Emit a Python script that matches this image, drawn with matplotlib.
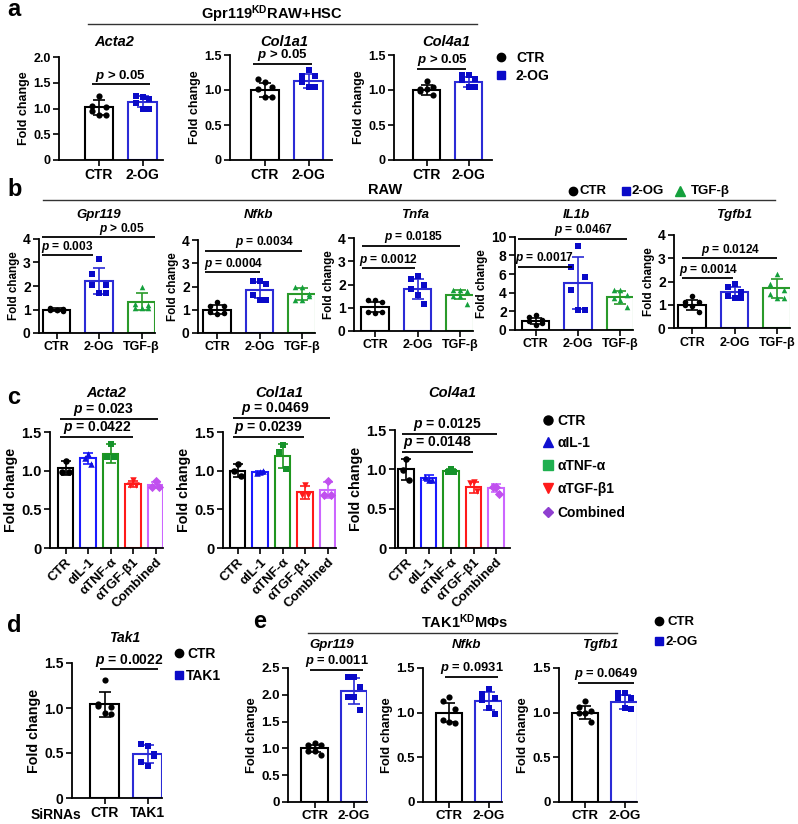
import matplotlib
matplotlib.use('Agg')
import matplotlib.pyplot as plt
from matplotlib.lines import Line2D

plt.rcParams.update({
    'font.family': ['Liberation Sans', 'DejaVu Sans'],
    'font.weight': 'bold',
    'mathtext.fontset': 'custom',
    'mathtext.rm': 'Liberation Sans:bold',
    'mathtext.it': 'Liberation Sans:italic:bold',
    'mathtext.bf': 'Liberation Sans:bold',
    'axes.linewidth': 1.3,
})

# ---------------- DATA ----------------
# Panel a
a_genes = ['Acta2', 'Col1a1', 'Col4a1']
a_groups = ['CTR', '2-OG']
a_means = [[1.02, 1.13], [1.00, 1.13], [1.00, 1.12]]
a_sd = [[0.14, 0.11], [0.10, 0.10], [0.07, 0.07]]
a_points = [
    [[1.24, 1.05, 1.03, 0.95, 0.87, 0.87], [1.22, 1.24, 1.18, 1.10, 1.00, 1.00]],
    [[1.11, 1.16, 1.04, 1.01, 0.90, 0.90], [1.28, 1.20, 1.20, 1.11, 1.04, 1.04]],
    [[1.13, 1.02, 1.05, 0.99, 1.01, 0.93], [1.22, 1.22, 1.16, 1.14, 1.04, 1.04]],
]
a_yticks = [[0, 0.5, 1.0, 1.5, 2.0], [0, 0.5, 1.0, 1.5], [0, 0.5, 1.0, 1.5]]
a_pvals = ['p > 0.05', 'p > 0.05', 'p > 0.05']

# Panel b
b_genes = ['Gpr119', 'Nfkb', 'Tnfa', 'IL1b', 'Tgfb1']
b_groups = ['CTR', '2-OG', 'TGF-β']
b_means = [[1.00, 2.20, 1.33], [1.00, 1.84, 1.66], [1.03, 1.80, 1.56],
           [0.95, 5.05, 3.50], [1.00, 1.54, 1.71]]
b_sd = [[0.05, 0.56, 0.36], [0.20, 0.35, 0.26], [0.22, 0.44, 0.20],
        [0.33, 2.75, 0.70], [0.20, 0.22, 0.39]]
b_points = [
    [[1.00, 0.98, 1.02, 1.05, 0.97, 0.93], [3.17, 2.50, 2.03, 2.03, 1.71, 1.71], [1.97, 1.24, 1.21, 1.07, 1.07, 1.07]],
    [[1.33, 1.17, 1.17, 0.90, 0.81, 0.86], [2.24, 2.24, 2.10, 1.64, 1.43, 1.43], [2.00, 1.96, 1.69, 1.43, 1.43, 1.60]],
    [[1.31, 1.31, 1.25, 0.79, 0.75, 0.79], [2.36, 2.24, 1.96, 1.80, 1.53, 1.17], [1.77, 1.78, 1.74, 1.50, 1.50, 1.17]],
    [[1.60, 1.43, 1.07, 0.96, 0.54, 0.71], [9.00, 6.80, 5.70, 4.30, 2.10, 2.10], [4.30, 4.25, 3.70, 3.40, 3.20, 2.50]],
    [[1.39, 1.11, 1.11, 1.00, 0.96, 0.69], [1.89, 1.79, 1.55, 1.37, 1.31, 1.31], [2.31, 1.89, 1.64, 1.46, 1.29, 1.29]],
]
b_yticks = [[0, 1, 2, 3, 4], [0, 1, 2, 3, 4], [0, 1, 2, 3, 4], [0, 2, 4, 6, 8, 10], [0, 1, 2, 3, 4]]
b_pvals = [('p = 0.003', 'p > 0.05'), ('p = 0.0004', 'p = 0.0034'), ('p = 0.0012', 'p = 0.0185'),
           ('p = 0.0017', 'p = 0.0467'), ('p = 0.0014', 'p = 0.0124')]

# Panel c
c_genes = ['Acta2', 'Col1a1', 'Col4a1']
c_groups = ['CTR', 'αIL-1', 'αTNF-α', 'αTGF-β1', 'Combined']
c_means = [[1.03, 1.16, 1.22, 0.83, 0.81], [1.00, 0.98, 1.19, 0.72, 0.75], [1.00, 0.89, 0.98, 0.77, 0.76]]
c_sd = [[0.09, 0.07, 0.12, 0.04, 0.04], [0.08, 0.02, 0.16, 0.08, 0.10], [0.13, 0.04, 0.03, 0.07, 0.05]]
c_points = [
    [[1.13, 0.98, 0.98], [1.22, 1.17, 1.08], [1.34, 1.18, 1.18], [0.88, 0.82, 0.82], [0.86, 0.79, 0.79]],
    [[1.09, 1.00, 0.93], [0.98, 0.97, 0.99], [1.33, 1.24, 1.02], [0.81, 0.69, 0.69], [0.86, 0.69, 0.69]],
    [[1.13, 0.99, 0.87], [0.87, 0.90, 0.87], [1.00, 0.97, 0.97], [0.84, 0.82, 0.72], [0.78, 0.78, 0.69]],
]
c_yticks = [0, 0.5, 1.0, 1.5]
c_pvals = [('p = 0.0422', 'p = 0.023'), ('p = 0.0239', 'p = 0.0469'), ('p = 0.0148', 'p = 0.0125')]

# Panel d
d_gene = 'Tak1'
d_groups = ['CTR', 'TAK1']
d_means = [1.04, 0.49]
d_sd = [0.14, 0.10]
d_points = [[1.31, 1.04, 1.01, 1.02, 0.94, 0.93], [0.58, 0.60, 0.49, 0.40, 0.36, 0.47]]
d_yticks = [0, 0.5, 1.0, 1.5]
d_pval = 'p = 0.0022'

# Panel e
e_genes = ['Gpr119', 'Nfkb', 'Tgfb1']
e_groups = ['CTR', '2-OG']
e_means = [[1.00, 2.07], [1.00, 1.13], [1.00, 1.12]]
e_sd = [[0.07, 0.24], [0.11, 0.10], [0.07, 0.08]]
e_points = [
    [[1.10, 1.07, 1.07, 0.96, 0.95, 0.88], [2.33, 2.33, 2.14, 1.96, 1.96, 1.71]],
    [[1.17, 1.13, 1.04, 0.92, 0.90, 0.88], [1.27, 1.21, 1.16, 1.14, 1.05, 0.99]],
    [[1.13, 1.06, 1.02, 1.00, 1.00, 0.90], [1.22, 1.22, 1.16, 1.16, 1.05, 1.04]],
]
e_yticks = [[0, 0.5, 1.0, 1.5, 2.0, 2.5], [0, 0.5, 1.0, 1.5], [0, 0.5, 1.0, 1.5]]
e_pvals = ['p = 0.0011', 'p = 0.0931', 'p = 0.0649']

# ---------------- STYLE ----------------
BLACK = '#000000'
BLUE_BAR = '#2b2bd6'
BLUE_PT = '#0a0ac8'
GREEN_BAR = '#2a9a2a'
GREEN_PT = '#14a03c'
RED = '#ff1a1a'
VIOLET_BAR = '#cc66ff'
VIOLET_PT = '#c050ee'

# per-panel font sizes: ylabel, ytick, xtick, pval, title
FS = {
    'a': dict(yl=9.0, yt=9.0, xt=10.0, p=9.5, ti=10.5),
    'b': dict(yl=8.4, yt=10.0, xt=9.0, p=8.6, ti=9.5),
    'c': dict(yl=10.3, yt=10.5, xt=9.5, p=10.0, ti=10.5),
    'd': dict(yl=10.3, yt=10.0, xt=10.0, p=10.0, ti=10.0),
    'e': dict(yl=9.3, yt=9.5, xt=9.5, p=9.3, ti=9.5),
}

W, H = 798, 824
fig = plt.figure(figsize=(W / 100, H / 100), dpi=100)

JIT6 = [0.0, -0.24, 0.24, -0.24, 0.0, 0.24]
JIT3 = [0.0, -0.22, 0.22]


def make_ax(left, right, top, bottom, c0, sp, ymax, fs):
    ax = fig.add_axes([left / W, 1 - bottom / H, (right - left) / W, (bottom - top) / H])
    ax.set_xlim(-(c0 - left) / sp, (right - c0) / sp)
    ax.set_ylim(0, ymax)
    for s in ['top', 'right']:
        ax.spines[s].set_visible(False)
    ax.spines['left'].set_linewidth(1.3)
    ax.spines['bottom'].set_linewidth(1.3)
    ax.tick_params(direction='out', length=4, width=1.2, pad=2)
    ax.tick_params(axis='y', labelsize=fs['yt'])
    ax.tick_params(axis='x', labelsize=fs['xt'])
    ax.set_ylabel('Fold change', fontsize=fs['yl'], fontweight='bold', labelpad=2)
    return ax


def draw_bars(ax, means, sds, pts, bar_colors, pt_colors, markers, width, jit, msize=20, cap=4.5):
    xs = list(range(len(means)))
    for i, x in enumerate(xs):
        ax.bar(x, means[i], width=width, color='white', edgecolor=bar_colors[i], linewidth=1.5, zorder=2)
        ax.errorbar(x, means[i], yerr=sds[i], fmt='none', ecolor=bar_colors[i],
                    elinewidth=1.2, capsize=cap, capthick=1.2, zorder=4)
        px = [x + j * width for j in jit[:len(pts[i])]]
        ax.scatter(px, pts[i], s=msize, marker=markers[i], color=pt_colors[i], zorder=5, linewidths=0)
    ax.set_xticks(xs)


def set_yt(ax, ticks, integer=False):
    ax.set_yticks(ticks)
    ax.set_yticklabels(['0' if t == 0 else (str(int(t)) if integer else '%.1f' % t) for t in ticks])


def text_to_math(t):
    return r'$p$' + t[1:]


def bracket(ax, x0, x1, y, text, tx, fs):
    ax.plot([x0, x1], [y, y], color='black', lw=1.3, clip_on=False, zorder=6, solid_capstyle='butt')
    ax.annotate(text_to_math(text), xy=(tx, y), xytext=(0, 0.5), textcoords='offset points',
                ha='center', va='bottom', fontsize=fs, fontweight='bold', annotation_clip=False)


def fig_text(x, y, s, **kw):
    fig.text(x / W, 1 - y / H, s, **kw)


def fig_line(x0, x1, y, lw=1.0):
    fig.add_artist(Line2D([x0 / W, x1 / W], [1 - y / H, 1 - y / H], color='#333333', lw=lw))


def fig_marker(x, y, marker, color, ms=6.5):
    fig.add_artist(Line2D([x / W], [1 - y / H], marker=marker, color=color, ms=ms, ls='none'))


# ---------------- PANEL a ----------------
fs = FS['a']
a_layout = [(59, 163, 57, 160, 99, 43.5, 2.0), (230, 332, 55, 160, 265, 43.5, 1.5), (394, 492, 55, 160, 426.5, 42, 1.5)]
a_br = [(-0.16, 1.18, 1.47, 0.5), (-0.28, 1.08, 1.37, 0.4), (-0.22, 0.95, 1.30, 0.37)]
for k in range(3):
    l, r, t, b, c0, sp, ym = a_layout[k]
    ax = make_ax(l, r, t, b, c0, sp, ym, fs)
    draw_bars(ax, a_means[k], a_sd[k], a_points[k], [BLACK, BLUE_BAR], [BLACK, BLUE_PT], ['o', 's'], 0.65, JIT6)
    set_yt(ax, a_yticks[k])
    ax.set_xticklabels(a_groups)
    x0, x1, y, tx = a_br[k]
    bracket(ax, x0, x1, y, a_pvals[k], tx, fs['p'])
    fig_text((l + r) / 2 + 3, 42, a_genes[k], ha='center', va='center', fontsize=fs['ti'], fontweight='bold', style='italic')

fig_text(7, 10, 'a', fontsize=17, fontweight='bold', va='center', ha='left')
fig_text(272, 14, r'Gpr119$^{\mathrm{KD}}$RAW+HSC', fontsize=10.5, fontweight='bold', ha='center', va='center')
fig_line(88, 477, 24)
fig_marker(501, 57, 'o', BLACK, 6)
fig_marker(501, 75, 's', BLUE_PT, 5.5)
fig_text(516, 58, 'CTR', fontsize=10, fontweight='bold', va='center')
fig_text(516, 76, '2-OG', fontsize=10, fontweight='bold', va='center')

# ---------------- PANEL b ----------------
fs = FS['b']
b_layout = [(39, 155, 239, 333, 56.5, 42.5, 4), (198, 315, 240, 333, 217, 42.5, 4),
            (354, 473, 238.3, 330.7, 375, 42.5, 4), (515, 633, 236.7, 330, 535.5, 42.5, 10),
            (674, 790, 235, 328.3, 692, 42.5, 4)]
b_br = [((-0.34, 0.86, 3.31, 0.25), (-0.34, 2.32, 4.07, 1.55)),
        ((-0.28, 1.0, 2.61, 0.38), (-0.28, 2.0, 3.53, 1.13)),
        ((-0.31, 0.94, 2.70, 0.31), (-0.31, 2.0, 3.68, 0.9)),
        ((-0.41, 0.86, 6.78, 0.22), (-0.41, 2.16, 9.75, 1.12)),
        ((-0.24, 0.97, 2.14, 0.38), (-0.24, 2.0, 3.0, 0.9))]
for k in range(5):
    l, r, t, b, c0, sp, ym = b_layout[k]
    ax = make_ax(l, r, t, b, c0, sp, ym, fs)
    draw_bars(ax, b_means[k], b_sd[k], b_points[k], [BLACK, BLUE_BAR, GREEN_BAR],
              [BLACK, BLUE_PT, GREEN_PT], ['o', 's', '^'], 0.64, JIT6, msize=16, cap=4)
    set_yt(ax, b_yticks[k], integer=True)
    ax.set_xticklabels(b_groups)
    for (x0, x1, y, tx), ptxt in zip(b_br[k], b_pvals[k]):
        bracket(ax, x0, x1, y, ptxt, tx, fs['p'])
    fig_text((l + r) / 2 + 2, 215, b_genes[k], ha='center', va='center', fontsize=fs['ti'], fontweight='bold', style='italic')

fig_text(7, 190, 'b', fontsize=17, fontweight='bold', va='center', ha='left')
fig_text(385, 190, 'RAW', fontsize=10.5, fontweight='bold', ha='center', va='center')
fig_line(43, 775, 200)
fig_marker(573, 191, 'o', BLACK, 6)
fig_text(580, 191, 'CTR', fontsize=9.5, fontweight='bold', va='center')
fig_marker(626, 191, 's', BLUE_PT, 6)
fig_text(632, 191, '2-OG', fontsize=9.5, fontweight='bold', va='center')
fig_marker(680, 191, '^', GREEN_PT, 6.5)
fig_text(691, 191, 'TGF-β', fontsize=9.5, fontweight='bold', va='center')

# ---------------- PANEL c ----------------
fs = FS['c']
c_layout = [(50, 163, 432, 548, 65.5, 22.5, 1.5), (223, 336, 432, 548, 237.5, 22.5, 1.5), (395, 510, 430, 548, 406, 22.5, 1.5)]
c_br = [((-0.24, 3.0, 1.44, 1.39), (-0.24, 4.1, 1.67, 1.67)),
        ((-0.2, 2.96, 1.44, 1.36), (-0.2, 4.1, 1.68, 1.67)),
        ((-0.17, 2.96, 1.22, 1.39), (-0.17, 4.05, 1.45, 1.83))]
c_bar_cols = [BLACK, '#1a1aff', '#1f961f', RED, VIOLET_BAR]
c_pt_cols = [BLACK, '#1010e0', '#15922a', RED, VIOLET_PT]
c_marks = ['o', '^', 's', 'v', 'D']
for k in range(3):
    l, r, t, b, c0, sp, ym = c_layout[k]
    ax = make_ax(l, r, t, b, c0, sp, ym, fs)
    draw_bars(ax, c_means[k], c_sd[k], c_points[k], c_bar_cols, c_pt_cols, c_marks, 0.67, JIT3, msize=22, cap=3.5)
    set_yt(ax, c_yticks)
    ax.set_xticklabels(c_groups, rotation=45, ha='right', rotation_mode='anchor')
    for (x0, x1, y, tx), ptxt in zip(c_br[k], c_pvals[k]):
        bracket(ax, x0, x1, y, ptxt, tx, fs['p'])
    fig_text((l + r) / 2, 393, c_genes[k], ha='center', va='center', fontsize=fs['ti'], fontweight='bold', style='italic')

fig_text(7, 398, 'c', fontsize=17, fontweight='bold', va='center', ha='left')
c_leg_y = [420, 442, 465, 488, 512]
c_leg_cols = [BLACK, '#1010d0', '#1fb050', RED, '#8f3fd0']
for yy, col, mk, lab in zip(c_leg_y, c_leg_cols, c_marks, c_groups):
    fig_marker(548, yy, mk, col, 6.5 if mk != 'D' else 5)
    fig_text(557, yy + 1, lab, fontsize=10, fontweight='bold', va='center')

# ---------------- PANEL d ----------------
fs = FS['d']
ax = make_ax(72, 162, 663, 798, 104.5, 43, 1.5, fs)
draw_bars(ax, d_means, d_sd, d_points, [BLACK, BLUE_BAR], [BLACK, BLUE_PT], ['o', 's'], 0.67, JIT6)
set_yt(ax, d_yticks)
ax.set_xticklabels(d_groups)
bracket(ax, -0.1, 1.24, 1.43, d_pval, 0.57, fs['p'])
fig_text(125, 638, d_gene, ha='center', va='center', fontsize=fs['ti'], fontweight='bold', style='italic')
fig_text(7, 625, 'd', fontsize=17, fontweight='bold', va='center', ha='left')
fig_text(56, 815, 'SiRNAs', fontsize=10, fontweight='bold', va='center', ha='center')
fig_marker(179, 653, 'o', BLACK, 6)
fig_text(187, 654, 'CTR', fontsize=10, fontweight='bold', va='center')
fig_marker(179, 675, 's', BLUE_PT, 6)
fig_text(186, 676, 'TAK1', fontsize=10, fontweight='bold', va='center')

# ---------------- PANEL e ----------------
fs = FS['e']
e_layout = [(288, 367, 668, 802, 314.5, 39.5, 2.5), (423, 502, 668, 802, 449, 39.5, 1.5), (559, 637, 668, 802, 585, 39.5, 1.5)]
e_br = [(-0.11, 1.24, 2.46, 0.57), (-0.1, 1.23, 1.40, 0.57), (-0.18, 1.24, 1.33, 0.52)]
e_title_x = [332, 467, 600]
for k in range(3):
    l, r, t, b, c0, sp, ym = e_layout[k]
    ax = make_ax(l, r, t, b, c0, sp, ym, fs)
    draw_bars(ax, e_means[k], e_sd[k], e_points[k], [BLACK, BLUE_BAR], [BLACK, BLUE_PT], ['o', 's'], 0.66, JIT6)
    set_yt(ax, e_yticks[k])
    ax.set_xticklabels(e_groups)
    x0, x1, y, tx = e_br[k]
    bracket(ax, x0, x1, y, e_pvals[k], tx, fs['p'])
    fig_text(e_title_x[k], 645, e_genes[k], ha='center', va='center', fontsize=fs['ti'], fontweight='bold', style='italic')

fig_text(253, 622, 'e', fontsize=17, fontweight='bold', va='center', ha='left')
fig_text(465, 622, r'TAK1$^{\mathrm{KD}}$MΦs', fontsize=10.5, fontweight='bold', ha='center', va='center')
fig_line(308, 617, 633)
fig_marker(659, 621, 'o', BLACK, 6)
fig_text(667, 622, 'CTR', fontsize=9.5, fontweight='bold', va='center')
fig_marker(659, 641, 's', BLUE_PT, 6)
fig_text(666, 642, '2-OG', fontsize=9.5, fontweight='bold', va='center')

fig.savefig('out.png', dpi=100)
